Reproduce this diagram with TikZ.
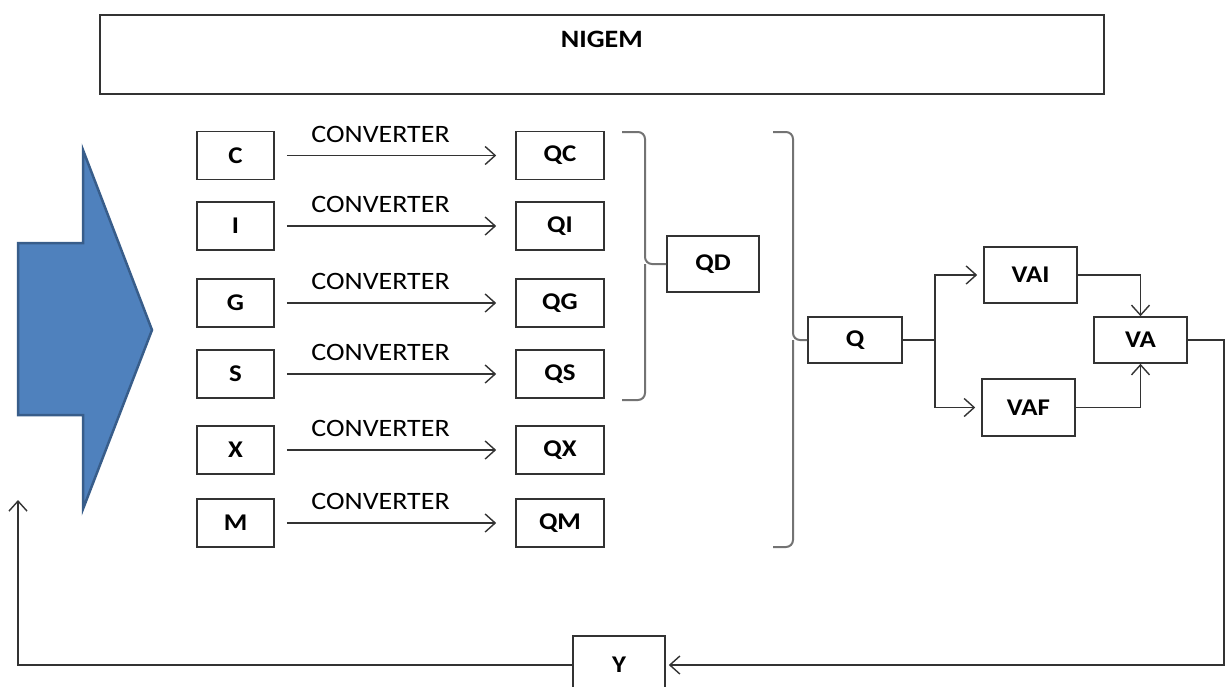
\documentclass[tikz,border=0pt]{standalone}
\usepackage{fontspec}
\setmainfont{Carlito}[FakeStretch=1.12]
\usetikzlibrary{arrows.meta}
\definecolor{arrowblue}{HTML}{4F81BD}
\definecolor{arrowedge}{HTML}{385D8A}
\begin{document}
\begin{tikzpicture}[x=1pt,y=-1pt,
  box/.style={draw=black!80,line width=1.6pt,fill=white,minimum width=77pt,minimum height=48pt,inner sep=0pt,font=\fontsize{24}{26}\selectfont\bfseries},
  qbox/.style={box,minimum width=88pt},
  conv/.style={draw=black!80,line width=1.4pt,-{Straight Barb[length=10pt,width=18pt]},shorten <=12pt,shorten >=19pt},
  arr/.style={draw=black!80,line width=1.4pt,-{Straight Barb[length=10pt,width=18pt]}},
  brace/.style={draw=black!55,line width=2pt,rounded corners=7pt},
  convlabel/.style={font=\fontsize{25}{27}\selectfont,above=9pt,pos=0.44}]
\useasboundingbox (0,0) rectangle (1228,686);
% top box
\node[draw=black!80,line width=1.6pt,minimum width=1004pt,minimum height=79pt,anchor=north west,
  label={[anchor=north,yshift=-14pt,font=\fontsize{25}{27}\selectfont\bfseries]north:NIGEM}] (nigem) at (99,14) {};
% big blue arrow
\draw[fill=arrowblue,draw=arrowedge,line width=2.5pt,line join=miter]
  (18,243) -- (83,243) -- (83,150) -- (152,330) -- (83,509) -- (83,415) -- (18,415) -- cycle;
% expenditure rows
\foreach \v/\y in {C/155.5,I/226,G/303,S/374,X/450,M/523}{
  \node[box] (\v) at (235.5,\y) {\v};
  \node[qbox] (Q\v) at (560,\y) {Q\v};
  \draw[conv] (\v) -- node[convlabel] {CONVERTER} (Q\v);
}
\node[box,minimum width=92pt,minimum height=56pt] (QD) at (713,264) {QD};
\node[box,minimum width=94pt,minimum height=46pt] (Q) at (855,340) {Q};
\node[box,minimum width=93pt,minimum height=56pt] (VAI) at (1030.5,275) {VAI};
\node[box,minimum width=93pt,minimum height=57pt] (VAF) at (1028.5,407.5) {VAF};
\node[box,minimum width=93pt,minimum height=46pt] (VA) at (1140.5,340) {VA};
\node[box,minimum width=92pt,minimum height=58pt] (Y) at (619,665) {Y};
% braces
\draw[brace] (622,132) -- (645,132) -- (645,264) -- (QD.west);
\draw[brace] (622,400) -- (645,400) -- (645,264);
\draw[brace] (773,132) -- (793,132) -- (793,340) -- (Q.west);
\draw[brace] (773,547) -- (793,547) -- (793,340);
% value added
\coordinate (split) at (935,340);
\draw[draw=black!80,line width=2.2pt] (Q.east) -- (split);
\draw[arr,shorten >=6pt] (split) |- (VAI.west);
\draw[arr,shorten >=6pt] (split) |- (VAF.west);
\draw[arr] (VAI.east) -| (VA.north);
\draw[arr] (VAF.east) -| (VA.south);
% feedback
\coordinate (rt) at (1224,340);
\coordinate (fb) at (18,500);
\draw[arr,shorten >=3pt] (VA.east) -- (rt) |- (Y.east);
\draw[arr] (Y.west) -| (fb);
\end{tikzpicture}
\end{document}
